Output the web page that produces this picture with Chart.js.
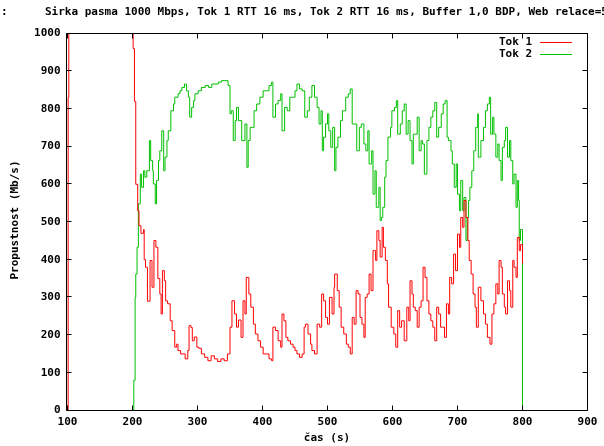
<!DOCTYPE html>
<html>
<head>
<meta charset="utf-8">
<script src="https://cdn.jsdelivr.net/npm/chart.js@4.4.0/dist/chart.umd.min.js"></script>
<style>
body { margin: 0; background: #fff; }
#box { width: 604px; height: 446px; }
</style>
</head>
<body>
<div id="box"><canvas id="graf" width="604" height="446"></canvas></div>
<script>
// ======================
// DATA
// ======================

const casTok1 = [
100,101,102,200,201,203,205,208,210,213,217,218,220,223,227,230,233,236,239,242,244,
246,249,251,254,258,261,265,268,270,274,278,281,285,287,290,292,295,299,302,306,
311,316,321,326,331,336,341,346,350,353,357,360,363,367,370,373,375,379,382,386,
389,393,397,401,404,407,410,414,416,420,424,428,430,433,436,439,443,447,450,453,
457,461,464,466,470,474,476,480,484,488,491,494,497,500,503,507,510,511,515,518,
521,525,529,532,535,538,541,544,547,550,553,556,558,561,564,567,570,574,576,579,
581,584,586,589,592,594,598,602,605,608,611,614,618,622,625,627,630,632,635,638,
641,644,647,650,653,656,659,662,665,668,671,674,677,680,683,686,688,691,694,697,
700,703,705,708,710,713,716,718,721,724,727,729,732,736,740,743,746,750,753,756,
759,762,764,767,769,772,774,777,780,782,785,787,790,792,795,797,800
];
const tok1 = [
0,830,1000,1000,960,820,600,530,490,470,480,400,380,290,398,327,451,433,350,309,256,
371,344,291,283,238,212,168,176,159,150,150,137,159,225,220,185,195,168,165,150,
141,132,145,137,130,137,132,150,221,291,256,221,240,194,291,256,353,309,274,229,
203,185,168,150,150,150,137,132,221,212,185,168,256,238,194,185,176,168,159,150,
141,150,221,229,203,176,159,150,229,221,309,291,247,229,300,256,327,362,318,274,
221,203,176,168,150,247,229,318,309,247,229,194,300,309,362,318,424,398,477,451,
407,486,433,398,336,274,221,203,168,265,221,238,185,274,238,344,309,274,265,221,
274,291,380,353,291,256,238,221,185,274,256,221,221,194,283,256,353,336,415,371,
468,433,512,486,557,512,451,398,362,309,274,221,327,291,256,229,194,176,256,283,
336,309,398,380,309,274,256,344,318,274,398,380,353,459,424,440,390
];

const casTok2 = [
200,202,204,205,207,209,212,214,217,219,222,226,228,231,232,235,237,240,242,245,
248,250,253,255,259,263,265,270,273,276,280,283,286,288,291,294,296,301,306,312,
317,322,327,332,337,342,347,350,352,355,358,360,363,368,373,376,378,381,384,387,
391,396,401,405,410,414,416,420,424,428,430,434,438,442,446,450,453,457,461,465,
469,472,476,480,484,487,490,492,494,497,500,502,505,508,511,513,516,520,523,528,
532,535,538,542,545,549,552,556,559,562,564,568,570,573,575,579,581,583,585,588,
590,593,597,599,603,606,608,612,615,618,621,624,627,630,632,635,638,641,644,646,
649,653,656,659,662,665,668,671,675,678,681,684,686,690,692,695,698,700,703,705,
708,710,713,715,717,719,722,725,728,731,732,736,740,743,746,749,751,754,756,759,
762,764,767,769,772,774,777,780,782,785,787,790,792,794,795,797,800
];
const tok2 = [
0,80,300,362,433,548,627,592,636,619,636,716,663,636,601,548,610,663,689,742,
636,672,716,742,795,813,831,840,848,857,866,848,831,778,804,822,840,848,857,862,
857,866,866,871,875,875,862,787,795,716,769,804,769,716,760,645,716,751,751,795,
813,831,848,848,862,871,778,813,822,840,742,804,795,831,831,848,866,853,848,778,
795,831,862,831,804,760,795,689,725,760,787,742,698,751,636,698,725,769,795,831,
840,853,760,760,689,751,760,707,689,742,654,689,574,636,539,592,504,512,539,619,
663,725,751,795,804,822,733,760,795,813,733,769,716,654,733,733,778,689,716,707,
627,716,751,778,795,817,725,751,787,813,822,725,716,689,654,592,654,574,530,610,
530,565,451,512,557,592,636,689,751,787,672,716,751,795,813,831,733,778,733,672,
707,663,610,698,716,751,672,716,663,601,627,539,610,557,451,480,0
];

const xTicks = [100,200,300,400,500,600,700,800,900];
const yTicks = [0,100,200,300,400,500,600,700,800,900,1000];

const titulek = "Sirka pasma 1000 Mbps, Tok 1 RTT 16 ms, Tok 2 RTT 16 ms, Buffer 1,0 BDP, Web relace=5";
const popisX = "čas (s)";
const popisY = "Propustnost (Mb/s)";
const nazvy = ["Tok 1", "Tok 2"];
const barvy = ["#ff0000", "#00c000"];

const FONT = "bold 11px 'DejaVu Sans Mono'";

function body(casy, hodnoty) {
    return casy.map((t, i) => ({ x: t, y: hodnoty[i] }));
}

// ======================
// RAMECEK, POPISKY, LEGENDA
// ======================

const ramecek = {
    id: "ramecek",
    afterDraw(chart) {
        const c = chart.ctx;
        const a = chart.chartArea;
        const sx = chart.scales.x;
        const sy = chart.scales.y;

        // hrany ramecku (stredy pixelu)
        const L = Math.round(a.left) - 1.5;
        const R = Math.round(a.right) - 0.5;
        const T = Math.round(a.top) - 0.5;
        const B = Math.round(a.bottom) - 0.5;

        c.save();
        c.strokeStyle = "#000";
        c.lineWidth = 1;

        c.beginPath();
        c.moveTo(L, T);
        c.lineTo(R, T);
        c.lineTo(R, B);
        c.lineTo(L, B);
        c.closePath();
        c.stroke();

        // znacky dovnitr
        c.beginPath();
        xTicks.forEach(v => {
            const px = Math.round(sx.getPixelForValue(v)) - 0.5;
            c.moveTo(px, B); c.lineTo(px, B - 5);
            c.moveTo(px, T); c.lineTo(px, T + 5);
        });
        yTicks.forEach(v => {
            const py = Math.round(sy.getPixelForValue(v)) - 0.5;
            c.moveTo(L, py); c.lineTo(L + 5, py);
            c.moveTo(R, py); c.lineTo(R - 5, py);
        });
        c.stroke();

        c.font = FONT;
        c.fillStyle = "#000";
        c.textBaseline = "middle";

        // titulek
        c.textAlign = "left";
        c.fillText(":", 1, 12);
        c.fillText(titulek, 45, 12);

        // popisky os
        c.textAlign = "center";
        c.fillText(popisX, 327, 438);
        c.translate(15, 220);
        c.rotate(-Math.PI / 2);
        c.fillText(popisY, 0, 0);
        c.restore();

        // legenda
        c.save();
        c.font = FONT;
        c.textBaseline = "middle";
        c.textAlign = "right";
        c.lineWidth = 1;
        nazvy.forEach((n, i) => {
            const y = 42 + i * 12;
            c.fillStyle = "#000";
            c.fillText(n, 532, y);
            c.strokeStyle = barvy[i];
            c.beginPath();
            c.moveTo(540, y + 0.5);
            c.lineTo(572, y + 0.5);
            c.stroke();
        });
        c.restore();
    }
};

// ======================
// GRAF
// ======================

const ctx = document.getElementById("graf");
const pismo = { family: "DejaVu Sans Mono", size: 11, weight: "bold" };

new Chart(ctx, {
    type: "line",
    data: {
        datasets: [
            {
                label: nazvy[0],
                data: body(casTok1, tok1),
                borderColor: barvy[0],
                borderWidth: 1,
                pointRadius: 0,
                stepped: true,
                fill: false,
                clip: false
            },
            {
                label: nazvy[1],
                data: body(casTok2, tok2),
                borderColor: barvy[1],
                borderWidth: 1,
                pointRadius: 0,
                stepped: true,
                fill: false,
                clip: false
            }
        ]
    },
    options: {
        responsive: false,
        animation: false,
        events: [],
        layout: { padding: { left: 0, right: 16.5, top: 33.5, bottom: 0 } },
        plugins: {
            legend: { display: false },
            title: { display: false },
            tooltip: { enabled: false }
        },
        scales: {
            x: {
                type: "linear",
                min: 100,
                max: 900,
                grid: { display: false, drawTicks: false },
                border: { display: false },
                ticks: {
                    stepSize: 100,
                    autoSkip: false,
                    maxRotation: 0,
                    padding: 5,
                    color: "#000",
                    font: pismo,
                    callback: v => String(v)
                },
                afterFit(s) { s.height = 35.5; }
            },
            y: {
                min: 0,
                max: 1000,
                grid: { display: false, drawTicks: false },
                border: { display: false },
                ticks: {
                    stepSize: 100,
                    autoSkip: false,
                    padding: 7,
                    color: "#000",
                    font: pismo,
                    callback: v => String(v)
                },
                afterFit(s) { s.width = 67.5; }
            }
        }
    },
    plugins: [ramecek]
});
</script>
</body>
</html>
